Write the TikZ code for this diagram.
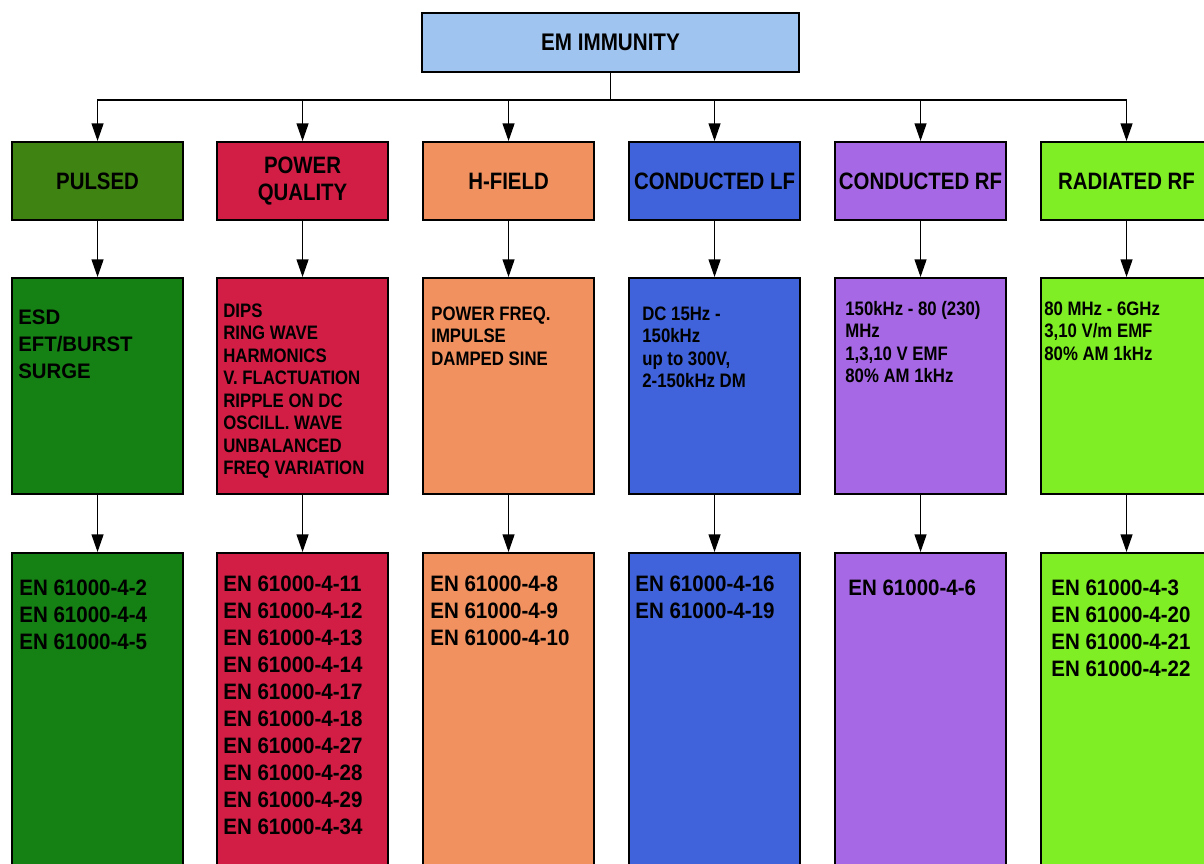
\documentclass[tikz,border=0pt]{standalone}
\usepackage{fontspec}
\setmainfont{Liberation Sans}
\newfontfamily\narrowA{Liberation Sans}[FakeStretch=0.86]
\newfontfamily\narrowB{Liberation Sans}[FakeStretch=0.92]
\newfontfamily\narrowC{Liberation Sans}[FakeStretch=0.97]
\usetikzlibrary{arrows.meta}

\definecolor{titlebg}{RGB}{160,196,240}
\definecolor{pulsedhead}{RGB}{63,131,18}
\definecolor{pulsedbody}{RGB}{21,128,19}
\definecolor{powerq}{RGB}{210,30,68}
\definecolor{hfield}{RGB}{241,145,96}
\definecolor{condlf}{RGB}{64,98,218}
\definecolor{condrf}{RGB}{166,104,228}
\definecolor{radrf}{RGB}{128,238,36}

\begin{document}
\begin{tikzpicture}[x=0.02cm,y=-0.02cm,
  box/.style={draw=black, line width=1.2pt, anchor=north west, inner sep=0pt,
              minimum width=3.42cm},
  titlebox/.style={box, fill=titlebg, minimum width=7.54cm, minimum height=1.18cm,
              font=\narrowA\bfseries\fontsize{13.66}{15.4}\selectfont},
  headbox/.style={box, minimum height=1.56cm, align=center,
              font=\narrowA\bfseries\fontsize{13.5}{15.36}\selectfont},
  midbox/.style={box, minimum height=4.32cm},
  stdbox/.style={box, minimum height=8cm},
  % multi-line labels are placed by the baseline of their last line
  lbl/.style={anchor=base west, inner sep=0pt, align=left},
  pulsedtext/.style={lbl, font=\narrowC\bfseries\fontsize{11.95}{15.36}\selectfont},
  midtext/.style={lbl, font=\narrowA\bfseries\fontsize{11.1}{12.8}\selectfont},
  stdtext/.style={lbl, font=\narrowB\bfseries\fontsize{12.7}{15.36}\selectfont},
  conn/.style={draw=black, line width=0.7pt, -{Triangle[length=10pt,width=6.8pt]}}
]
\useasboundingbox (0,0) rectangle (1204,863);
\clip (0,0) rectangle (1204,863);

% root
\node[titlebox] (root) at (421,12) {EM IMMUNITY};
\coordinate (bus) at (0,100);

% category headers
\node[headbox, fill=pulsedhead] (h1) at (11,141)   {PULSED};
\node[headbox, fill=powerq]     (h2) at (216,141)  {POWER\\QUALITY};
\node[headbox, fill=hfield]     (h3) at (422,141)  {H-FIELD};
\node[headbox, fill=condlf]     (h4) at (628,141)  {CONDUCTED LF};
\node[headbox, fill=condrf]     (h5) at (834,141)  {CONDUCTED RF};
\node[headbox, fill=radrf]      (h6) at (1040,141) {RADIATED RF};

% phenomena
\node[midbox, fill=pulsedbody] (m1) at (11,277)   {};
\node[midbox, fill=powerq]     (m2) at (216,277)  {};
\node[midbox, fill=hfield]     (m3) at (422,277)  {};
\node[midbox, fill=condlf]     (m4) at (628,277)  {};
\node[midbox, fill=condrf]     (m5) at (834,277)  {};
\node[midbox, fill=radrf]      (m6) at (1040,277) {};

\node[pulsedtext] (m1t) at (18,378)    {ESD\\EFT/BURST\\SURGE};
\node[midtext]    (m2t) at (223,474.5) {DIPS\\RING WAVE\\HARMONICS\\V. FLACTUATION\\RIPPLE ON DC\\OSCILL. WAVE\\UNBALANCED\\FREQ VARIATION};
\node[midtext]    (m3t) at (431,365)   {POWER FREQ.\\IMPULSE\\DAMPED SINE};
\node[midtext]    (m4t) at (642,387.5) {DC 15Hz -\\150kHz\\up to 300V,\\2-150kHz DM};
\node[midtext]    (m5t) at (845,382.5) {150kHz - 80 (230)\\MHz\\1,3,10 V EMF\\80\% AM 1kHz};
\node[midtext]    (m6t) at (1044,360)  {80 MHz - 6GHz\\3,10 V/m EMF\\80\% AM 1kHz};

% standards
\node[stdbox, fill=pulsedbody] (s1) at (11,552)   {};
\node[stdbox, fill=powerq]     (s2) at (216,552)  {};
\node[stdbox, fill=hfield]     (s3) at (422,552)  {};
\node[stdbox, fill=condlf]     (s4) at (628,552)  {};
\node[stdbox, fill=condrf]     (s5) at (834,552)  {};
\node[stdbox, fill=radrf]      (s6) at (1040,552) {};

\node[stdtext] (s1t) at (19,649)   {EN 61000-4-2\\EN 61000-4-4\\EN 61000-4-5};
\node[stdtext] (s2t) at (223,834)  {EN 61000-4-11\\EN 61000-4-12\\EN 61000-4-13\\EN 61000-4-14\\EN 61000-4-17\\EN 61000-4-18\\EN 61000-4-27\\EN 61000-4-28\\EN 61000-4-29\\EN 61000-4-34};
\node[stdtext] (s3t) at (430,645)  {EN 61000-4-8\\EN 61000-4-9\\EN 61000-4-10};
\node[stdtext] (s4t) at (635,618)  {EN 61000-4-16\\EN 61000-4-19};
\node[stdtext] (s5t) at (848,595)  {EN 61000-4-6};
\node[stdtext] (s6t) at (1051,676) {EN 61000-4-3\\EN 61000-4-20\\EN 61000-4-21\\EN 61000-4-22};

% connectors
\foreach \i in {1,...,6} {
  \draw[conn] (root.south) -- (root.south |- bus) -| (h\i.north);
  \draw[conn] (h\i.south) -- (m\i.north);
  \draw[conn] (m\i.south) -- (s\i.north);
}
\end{tikzpicture}
\end{document}
